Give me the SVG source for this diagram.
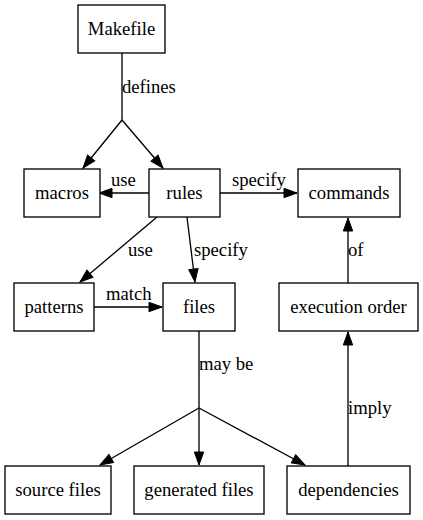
<svg xmlns="http://www.w3.org/2000/svg" width="423" height="520" viewBox="0 0 423 520">
<style>
.n rect{fill:#fff;stroke:#000;stroke-width:1.33}
text{font-size:18.67px;fill:#000}
.c{text-anchor:middle}
.e path{fill:none;stroke:#000;stroke-width:1.33}
.e path.a{marker-end:url(#ah)}
</style>
<defs>
<marker id="ah" markerUnits="userSpaceOnUse" markerWidth="14" markerHeight="10" refX="13" refY="4.67" orient="auto" overflow="visible">
<path d="M0,0 L13,4.67 L0,9.33 z" fill="#000" stroke="#000" stroke-width="1"/>
</marker>
</defs>
<rect width="423" height="520" fill="#fff"/>
<g id="edges" class="e">
<path d="M122,53 L122,120"/>
<path class="a" d="M122,120 L83,168"/>
<path class="a" d="M122,120 L163,168"/>
<path class="a" d="M149,193 L99,193"/>
<path class="a" d="M220,193 L297,193"/>
<path class="a" d="M157,217 L80,282"/>
<path class="a" d="M187,217 L195,282"/>
<path class="a" d="M94,307 L162,307"/>
<path d="M199,331 L199,408"/>
<path class="a" d="M199,408 L100,465"/>
<path class="a" d="M199,408 L199,465"/>
<path class="a" d="M199,408 L305,465"/>
<path class="a" d="M348,466 L348,332"/>
<path class="a" d="M348,283 L348,218"/>
</g>
<g font-family="Liberation Serif, Times New Roman, serif">
<g id="edge-labels">
<text x="122" y="93">defines</text>
<text x="111" y="186">use</text>
<text x="232" y="186">specify</text>
<text x="128" y="256">use</text>
<text x="194" y="256">specify</text>
<text x="106" y="300">match</text>
<text x="199" y="370">may be</text>
<text x="348" y="414">imply</text>
<text x="348" y="256">of</text>
</g>
<g id="n-makefile" class="n"><rect x="78" y="5" width="87" height="48"/><text class="c" x="121.5" y="35">Makefile</text></g>
<g id="n-macros" class="n"><rect x="24" y="169" width="76" height="48"/><text class="c" x="62" y="199">macros</text></g>
<g id="n-rules" class="n"><rect x="149" y="169" width="71" height="48"/><text class="c" x="184.5" y="199">rules</text></g>
<g id="n-commands" class="n"><rect x="298" y="169" width="102" height="48"/><text class="c" x="349" y="199">commands</text></g>
<g id="n-patterns" class="n"><rect x="14" y="283" width="80" height="48"/><text class="c" x="54" y="313">patterns</text></g>
<g id="n-files" class="n"><rect x="163" y="283" width="72" height="48"/><text class="c" x="199" y="313">files</text></g>
<g id="n-execution-order" class="n"><rect x="279" y="283" width="139" height="48"/><text class="c" x="348.5" y="313">execution order</text></g>
<g id="n-source-files" class="n"><rect x="5" y="466" width="106" height="48"/><text class="c" x="58" y="496">source files</text></g>
<g id="n-generated-files" class="n"><rect x="134" y="466" width="130" height="48"/><text class="c" x="199" y="496">generated files</text></g>
<g id="n-dependencies" class="n"><rect x="287" y="466" width="123" height="48"/><text class="c" x="348.5" y="496">dependencies</text></g>
</g>
</svg>
